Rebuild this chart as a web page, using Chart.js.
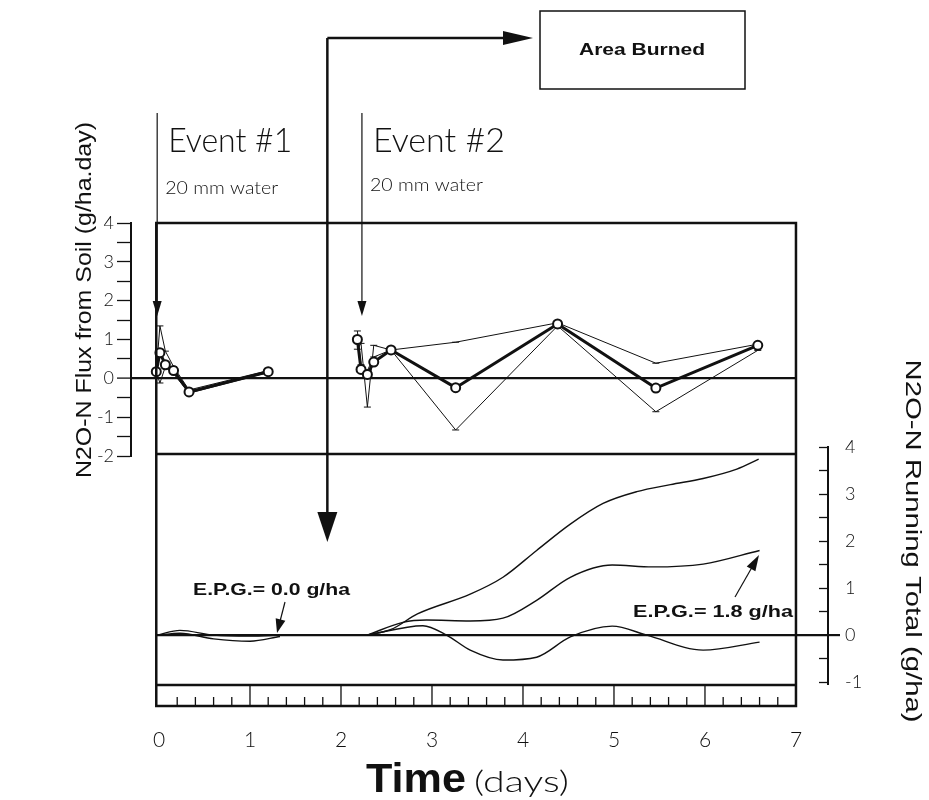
<!DOCTYPE html>
<html>
<head>
<meta charset="utf-8">
<title>N2O-N flux and running total</title>
<script src="https://cdn.jsdelivr.net/npm/chart.js@4.4.1/dist/chart.umd.min.js"></script>
<style>
  html, body { margin: 0; padding: 0; background: #fff; }
  #stage { position: relative; width: 929px; height: 800px; }
  #stage canvas { position: absolute; left: 0; top: 0; }
</style>
</head>
<body>
<div id="stage">
  <canvas id="fluxChart" width="929" height="800"></canvas>
  <canvas id="totalChart" width="929" height="800"></canvas>
</div>
<script>
// N2O-N flux from soil (g/ha.day): mean, upper and lower bound
const ev1Days  = [-0.03, 0.01, 0.07, 0.16, 0.33, 1.2];
const ev1Mean  = [0.17, 0.66, 0.35, 0.2, -0.35, 0.17];
const ev1Upper = [0.17, 1.35, 0.7, 0.3, -0.3, 0.2];
const ev1Lower = [0.17, -0.12, 0.3, 0.12, -0.38, 0.15];

const ev2Days  = [2.18, 2.22, 2.29, 2.36, 2.55, 3.26, 4.38, 5.46, 6.58];
const ev2Mean  = [1.0, 0.23, 0.1, 0.42, 0.73, -0.24, 1.4, -0.25, 0.85];
const ev2Upper = [1.22, 0.35, 0.2, 0.55, 0.73, 0.93, 1.43, 0.39, 0.88];
const ev2Lower = [0.75, 0.9, -0.74, 0.85, 0.73, -1.33, 1.35, -0.86, 0.72];

// N2O-N running total (g/ha)
const run1Days = [-0.02, 0.23, 0.6, 1.0, 1.33];
const run1A    = [0, 0.1, 0.0, -0.02, 0.0];
const run1B    = [0, 0.04, -0.08, -0.13, -0.03];

const runHiDays  = [2.29, 2.55, 2.84, 3.42, 3.78, 4.15, 4.52, 4.88, 5.25, 5.62, 5.98, 6.35, 6.59];
const runHi      = [0, 0.12, 0.45, 0.87, 1.23, 1.8, 2.36, 2.8, 3.05, 3.2, 3.33, 3.53, 3.74];
const runMidDays = [2.29, 2.68, 2.94, 3.42, 3.78, 4.15, 4.52, 4.98, 5.42, 5.98, 6.6];
const runMid     = [0, 0.27, 0.32, 0.3, 0.36, 0.74, 1.23, 1.49, 1.45, 1.51, 1.8];
const runLoDays  = [2.29, 2.9, 3.16, 3.42, 3.78, 4.15, 4.52, 4.98, 5.36, 5.98, 6.6];
const runLo      = [0, 0.2, 0.0, -0.32, -0.53, -0.47, -0.04, 0.19, 0.0, -0.32, -0.15];

// ticks
const dayTicks   = [0, 1, 2, 3, 4, 5, 6, 7];
const fluxTicks  = [-2, -1.5, -1, -0.5, 0, 0.5, 1, 1.5, 2, 2.5, 3, 3.5, 4];
const totalTicks = [-1, -0.5, 0, 0.5, 1, 1.5, 2, 2.5, 3, 3.5, 4];

// events
const eventDays = [-0.02, 2.23];
const burnDay = 1.85;

const INK = '#111';
const HAND = "'Lato', 'Open Sans', sans-serif";
const SANS = "'Liberation Sans', Arial, sans-serif";

function pts(days, vals) {
    return days.map((d, i) => ({ x: d, y: vals[i] }));
}

function meanSet(days, vals) {
    return {
        data: pts(days, vals),
        borderColor: INK, borderWidth: 3,
        pointRadius: 4.5, pointBackgroundColor: '#fff',
        pointBorderColor: INK, pointBorderWidth: 2
    };
}

function boundSet(days, vals) {
    return {
        data: pts(days, vals),
        borderColor: INK, borderWidth: 1,
        pointStyle: 'line', pointRadius: 3.5,
        pointBorderColor: INK, pointBorderWidth: 1
    };
}

function runSet(days, vals) {
    return {
        data: pts(days, vals),
        borderColor: INK, borderWidth: 1.4,
        pointRadius: 0,
        cubicInterpolationMode: 'monotone'
    };
}

// text squeezed/stretched to a given width
function fitText(ctx, text, x, y, font, width, align, baseline, rot) {
    ctx.save();
    ctx.font = font;
    const w = ctx.measureText(text).width;
    ctx.translate(x, y);
    if (rot) ctx.rotate(rot);
    ctx.scale(width / w, 1);
    ctx.textAlign = align || 'left';
    ctx.textBaseline = baseline || 'alphabetic';
    ctx.fillStyle = INK;
    ctx.fillText(text, 0, 0);
    ctx.restore();
}

function arrow(ctx, x1, y1, x2, y2, lw, len, half) {
    const a = Math.atan2(y2 - y1, x2 - x1);
    ctx.save();
    ctx.strokeStyle = INK;
    ctx.fillStyle = INK;
    ctx.lineWidth = lw;
    ctx.beginPath();
    ctx.moveTo(x1, y1);
    ctx.lineTo(x2 - Math.cos(a) * len * 0.7, y2 - Math.sin(a) * len * 0.7);
    ctx.stroke();
    ctx.translate(x2, y2);
    ctx.rotate(a);
    ctx.beginPath();
    ctx.moveTo(0, 0);
    ctx.lineTo(-len, -half);
    ctx.lineTo(-len, half);
    ctx.closePath();
    ctx.fill();
    ctx.restore();
}

const notes = {
    id: 'notes',
    afterDraw(chart) {
        const ctx = chart.ctx;
        const x = chart.scales.x;

        // watering events
        eventDays.forEach((d, i) => {
            const ex = x.getPixelForValue(d);
            arrow(ctx, ex, 113, ex, 316, 1.2, 15, 4.5);
            fitText(ctx, 'Event #' + (i + 1), ex + 11, 152, '300 34px ' + HAND, i ? 132 : 124);
            fitText(ctx, '20 mm water', ex + 8, i ? 191 : 194, '300 17px ' + HAND, 113);
        });

        // area burned
        const bx = x.getPixelForValue(burnDay);
        ctx.save();
        ctx.strokeStyle = INK;
        ctx.lineWidth = 2.5;
        ctx.beginPath();
        ctx.moveTo(bx, 60);
        ctx.lineTo(bx, 38);
        ctx.stroke();
        ctx.restore();
        arrow(ctx, bx, 38, 533, 38, 2.5, 30, 7);
        arrow(ctx, bx, 60, bx, 542, 2.5, 30, 10);
        ctx.save();
        ctx.strokeStyle = INK;
        ctx.lineWidth = 1.5;
        ctx.strokeRect(540, 11, 205, 78);
        ctx.restore();
        fitText(ctx, 'Area Burned', 642, 50, 'bold 17px ' + SANS, 126, 'center', 'middle');

        // E.P.G. labels
        fitText(ctx, 'E.P.G.= 0.0 g/ha', 193, 595, 'bold 17px ' + SANS, 157);
        arrow(ctx, 285, 602, 277, 633, 1.2, 14, 5);
        fitText(ctx, 'E.P.G.= 1.8 g/ha', 633, 617, 'bold 17px ' + SANS, 160);
        arrow(ctx, 735, 597, 759, 555, 1.2, 16, 5);

        // axis titles
        fitText(ctx, 'N2O-N Flux from Soil (g/ha.day)', 85, 300, '22px ' + SANS, 356, 'center', 'middle', -Math.PI / 2);
        fitText(ctx, 'N2O-N Running Total (g/ha)', 912, 541, '22px ' + SANS, 363, 'center', 'middle', Math.PI / 2);
        fitText(ctx, 'Time', 366, 792, 'bold 40px ' + SANS, 100);
        fitText(ctx, '(days)', 474, 792, '300 30px ' + HAND, 95);
    }
};

const fluxChart = new Chart(document.getElementById('fluxChart'), {
    type: 'line',
    data: {
        datasets: [
            meanSet(ev1Days, ev1Mean),
            meanSet(ev2Days, ev2Mean),
            boundSet(ev1Days, ev1Upper),
            boundSet(ev1Days, ev1Lower),
            boundSet(ev2Days, ev2Upper),
            boundSet(ev2Days, ev2Lower)
        ]
    },
    options: {
        responsive: false,
        animation: false,
        layout: { padding: { left: 71, right: 133, top: 223, bottom: 344 } },
        plugins: {
            legend: { display: false },
            tooltip: { enabled: false }
        },
        scales: {
            x: { type: 'linear', min: -0.3077, max: 7, display: false },
            y: {
                position: 'left',
                min: -2,
                max: 4,
                afterFit: s => { s.width = 60; },
                afterBuildTicks: s => { s.ticks = fluxTicks.map(v => ({ value: v })); },
                ticks: {
                    autoSkip: false,
                    padding: 3,
                    color: INK,
                    font: { family: HAND, size: 18, weight: '300' },
                    callback: v => Number.isInteger(v) ? String(v) : ''
                },
                grid: {
                    color: c => c.tick && c.tick.value === 0 ? INK : 'rgba(0,0,0,0)',
                    lineWidth: c => c.tick && c.tick.value === 0 ? 2.2 : 1,
                    tickColor: INK,
                    tickLength: 14,
                    tickWidth: 1.3
                },
                border: { color: INK, width: 2 }
            }
        }
    },
    plugins: [notes]
});

const frame = {
    id: 'frame',
    afterDraw(chart) {
        const ctx = chart.ctx;
        const x = chart.scales.x;
        const y = chart.scales.y;
        const yA = fluxChart.scales.y;
        const left = x.getPixelForValue(-0.03);
        const right = x.getPixelForValue(7);
        const top = yA.getPixelForValue(4);
        const mid = yA.getPixelForValue(-2) - 2;
        const bottom = chart.chartArea.bottom + 1;
        const strip = bottom + 21;
        ctx.save();
        ctx.strokeStyle = INK;
        ctx.lineWidth = 2.5;
        ctx.strokeRect(left, top, right - left, strip - top);
        ctx.beginPath();
        ctx.moveTo(left, mid);
        ctx.lineTo(right, mid);
        ctx.moveTo(left, bottom);
        ctx.lineTo(right, bottom);
        ctx.stroke();
        // zero line runs a little past the right axis
        ctx.lineWidth = 2.2;
        ctx.beginPath();
        ctx.moveTo(chart.chartArea.right, y.getPixelForValue(0));
        ctx.lineTo(chart.chartArea.right + 12, y.getPixelForValue(0));
        ctx.stroke();
        // day ruler
        ctx.lineWidth = 1.3;
        ctx.beginPath();
        for (let i = 1; i < 35; i++) {
            const px = x.getPixelForValue(i / 5);
            ctx.moveTo(px, i % 5 === 0 ? bottom : strip - 9);
            ctx.lineTo(px, strip);
        }
        ctx.stroke();
        ctx.restore();
    }
};

new Chart(document.getElementById('totalChart'), {
    type: 'line',
    data: {
        datasets: [
            runSet(run1Days, run1A),
            runSet(run1Days, run1B),
            runSet(runHiDays, runHi),
            runSet(runMidDays, runMid),
            runSet(runLoDays, runLo)
        ]
    },
    options: {
        responsive: false,
        animation: false,
        layout: { padding: { left: 157, right: 51, top: 447, bottom: 26 } },
        plugins: {
            legend: { display: false },
            tooltip: { enabled: false }
        },
        scales: {
            x: {
                type: 'linear',
                min: -0.022,
                max: 7.352,
                afterFit: s => { s.height = 90; },
                afterBuildTicks: s => { s.ticks = dayTicks.map(v => ({ value: v })); },
                grid: { display: false, drawTicks: false },
                border: { display: false },
                ticks: {
                    autoSkip: false,
                    maxRotation: 0,
                    padding: 44,
                    color: INK,
                    font: { family: HAND, size: 21, weight: '300' }
                }
            },
            y: {
                position: 'right',
                min: -1.04,
                max: 4,
                afterFit: s => { s.width = 50; },
                afterBuildTicks: s => { s.ticks = totalTicks.map(v => ({ value: v })); },
                ticks: {
                    autoSkip: false,
                    padding: 26,
                    color: INK,
                    font: { family: HAND, size: 18, weight: '300' },
                    callback: v => Number.isInteger(v) ? String(v) : ''
                },
                grid: {
                    color: c => c.tick && c.tick.value === 0 ? INK : 'rgba(0,0,0,0)',
                    lineWidth: c => c.tick && c.tick.value === 0 ? 2.2 : 1,
                    tickColor: INK,
                    tickLength: -9,
                    tickWidth: 1.3
                },
                border: { color: INK, width: 2 }
            }
        }
    },
    plugins: [frame]
});
</script>
</body>
</html>
